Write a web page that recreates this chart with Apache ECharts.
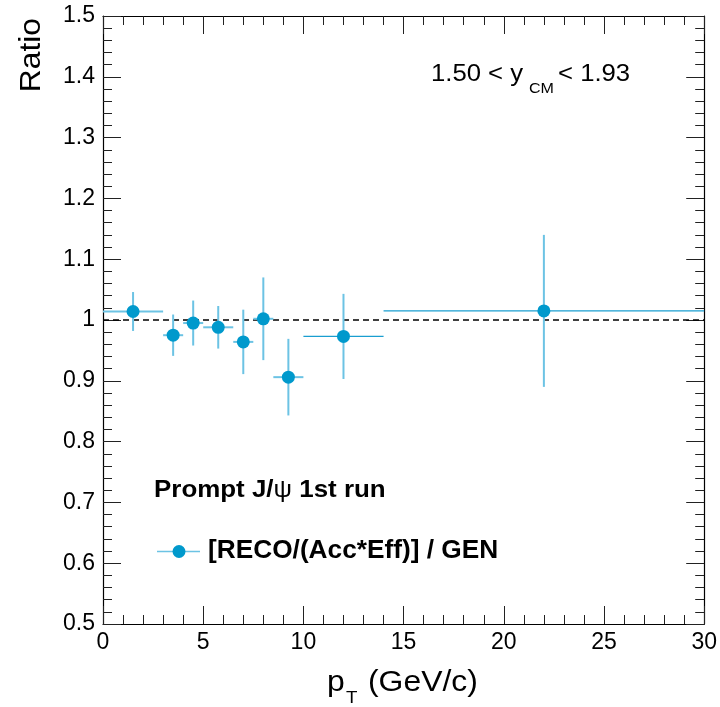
<!DOCTYPE html>
<html>
<head>
<meta charset="utf-8">
<script src="https://cdn.jsdelivr.net/npm/echarts@6/dist/echarts.min.js"></script>
<style>
html, body { margin: 0; padding: 0; background: #fff; }
#main { width: 720px; height: 707px; }
</style>
</head>
<body>
<div id="main"></div>
<script>
// pT bins (GeV/c) and ratio values
var ptCenter = [1.5, 3.5, 4.5, 5.75, 7.0, 8.0, 9.25, 12.0, 22.0];
var ptLow = [0, 3, 4, 5, 6.5, 7.5, 8.5, 10, 14];
var ptHigh = [3, 4, 5, 6.5, 7.5, 8.5, 10, 14, 30];
var ratio = [1.014, 0.975, 0.995, 0.988, 0.964, 1.002, 0.906, 0.973, 1.015];
var ratioErr = [0.032, 0.034, 0.037, 0.035, 0.053, 0.068, 0.063, 0.070, 0.125];
var refLine = 1;

var FONT = '"Liberation Sans", Helvetica, Arial, sans-serif';
var dark = '#0099cc';
var light = '#6cc3e4';

var points = [];
var bars = [];
for (i = 0; i < ptCenter.length; i++) {
    points.push([ptCenter[i], ratio[i]]);
    bars.push([ptCenter[i], ratio[i], ptLow[i], ptHigh[i], ratioErr[i]]);
}

function renderBar(params, api) {
    var x = api.value(0), y = api.value(1);
    var lo = api.value(2), hi = api.value(3), e = api.value(4);
    var pl = api.coord([lo, y]);
    var pr = api.coord([hi, y]);
    var pt = api.coord([x, y + e]);
    var pb = api.coord([x, y - e]);
    var wide = (hi - lo) >= 4;
    return {
        type: 'group',
        children: [
            {type: 'line', shape: {x1: pt[0], y1: pt[1], x2: pb[0], y2: pb[1]},
             style: {stroke: light, lineWidth: 2}},
            {type: 'line', shape: {x1: pl[0], y1: pl[1], x2: pr[0], y2: pr[1]},
             style: {stroke: wide ? '#1a9ed0' : light, lineWidth: wide ? 1.3 : 2}}
        ]
    };
}

function axisCommon(showLabel) {
    return {
        axisLine: {show: true, onZero: false, lineStyle: {color: '#000', width: 1.2}},
        axisTick: {show: true, inside: true, length: 18, lineStyle: {color: '#222', width: 1}},
        minorTick: {show: true, splitNumber: 5, length: 9, lineStyle: {color: '#222', width: 1}},
        splitLine: {show: false},
        axisLabel: {show: showLabel, color: '#000', fontFamily: FONT, fontSize: 23}
    };
}

var dom = document.getElementById('main');
var myChart = echarts.init(dom, null, {renderer: 'canvas'});

var xBottom = axisCommon(true);
xBottom.type = 'value'; xBottom.min = 0; xBottom.max = 30; xBottom.interval = 5;
xBottom.position = 'bottom'; xBottom.axisLabel.margin = 7;
var xTop = axisCommon(false);
xTop.type = 'value'; xTop.min = 0; xTop.max = 30; xTop.interval = 5; xTop.position = 'top';

var yLeft = axisCommon(true);
yLeft.type = 'value'; yLeft.min = 0.5; yLeft.max = 1.5; yLeft.interval = 0.1;
yLeft.position = 'left'; yLeft.axisLabel.margin = 8;
yLeft.axisLabel.formatter = function (v) { return String(Math.round(v * 10) / 10); };
var yRight = axisCommon(false);
yRight.type = 'value'; yRight.min = 0.5; yRight.max = 1.5; yRight.interval = 0.1; yRight.position = 'right';

function txt(x, y, text, font, sx, extra) {
    var st = {text: text, font: font + ' ' + FONT, fill: '#000', align: 'left', verticalAlign: 'middle'};
    var el = {type: 'text', x: x, y: y, scaleX: sx || 1, style: st};
    if (extra) {
        for (var k in extra) el[k] = extra[k];
    }
    return el;
}

option = {
    backgroundColor: '#fff',
    animation: false,
    grid: {left: 103, right: 14, top: 16, bottom: 83, containLabel: false},
    xAxis: [xBottom, xTop],
    yAxis: [yLeft, yRight],
    series: [
        {
            type: 'line',
            data: [[0, refLine], [30, refLine]],
            symbol: 'none',
            lineStyle: {color: '#000', width: 1.3, type: [6, 4]},
            z: 1
        },
        {
            type: 'custom',
            data: bars,
            renderItem: renderBar,
            z: 2
        },
        {
            type: 'scatter',
            data: points,
            symbol: 'circle',
            symbolSize: 13,
            itemStyle: {color: dark, opacity: 1},
            z: 3
        }
    ],
    graphic: [
        {type: 'text', x: 32, y: 18, rotation: Math.PI / 2, scaleX: 1.06,
         style: {text: 'Ratio', font: '30px ' + FONT, fill: '#000', align: 'right', verticalAlign: 'middle'}},
        txt(327, 683, 'p', '29px', 1.1),
        txt(346, 698, 'T', '17px', 1.1),
        txt(368, 683, '(GeV/c)', '29px', 1.1),
        txt(431, 74, '1.50 < y', '24px', 1.07),
        txt(529, 89, 'CM', '15px', 1.07),
        txt(558, 74, '< 1.93', '24px', 1.07),
        {type: 'text', x: 154, y: 490, scaleX: 1.08,
         style: {
             text: '{b|Prompt J/}{n|\u03c8}{b| 1st run}',
             align: 'left', verticalAlign: 'middle',
             rich: {
                 b: {fontFamily: FONT, fontSize: 24, fontWeight: 'bold', fill: '#000'},
                 n: {fontFamily: FONT, fontSize: 24, fontWeight: 'normal', fill: '#000'}
             }
         }},
        {type: 'line', shape: {x1: 157, y1: 551.5, x2: 200, y2: 551.5},
         style: {stroke: light, lineWidth: 1.5}},
        {type: 'circle', shape: {cx: 179, cy: 551.5, r: 6.5}, style: {fill: dark}},
        txt(208, 551, '[RECO/(Acc*Eff)] / GEN', 'bold 25px', 1.05)
    ]
};

if (option && typeof option === 'object') {
    myChart.setOption(option, true);
}
</script>
</body>
</html>
